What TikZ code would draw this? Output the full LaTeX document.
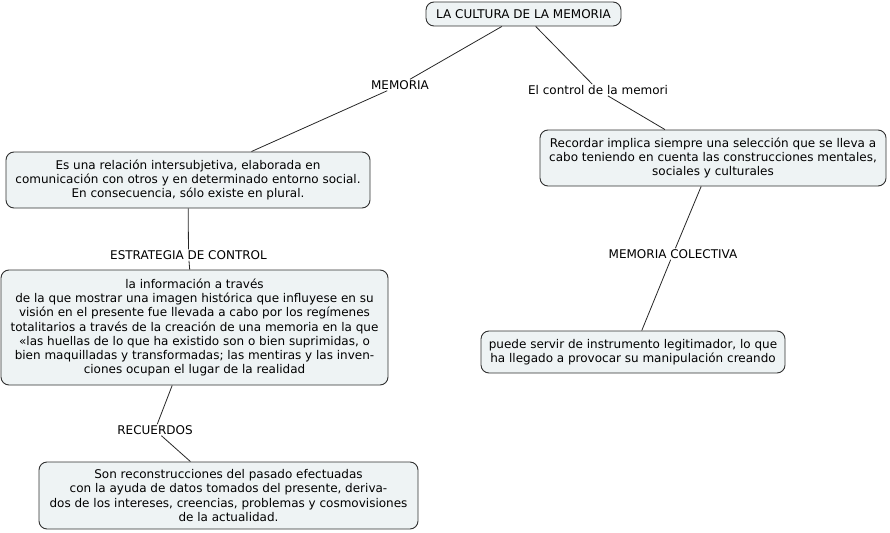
\documentclass[tikz,border=0pt]{standalone}
\usepackage{fontspec}
\setmainfont{DejaVu Sans}
\definecolor{boxfill}{HTML}{EEF3F4}
\definecolor{boxline}{HTML}{303030}
\begin{document}
\begin{tikzpicture}[x=1pt,y=-1pt,
  concept/.style={draw=boxline, fill=boxfill, rounded corners=8pt, line width=0.9pt, align=center, inner sep=0pt,
    font=\fontsize{12}{14.3}\selectfont},
  lbl/.style={inner sep=1pt, font=\fontsize{12}{14}\selectfont},
  conn/.style={draw=black!85, line width=0.8pt}]
\useasboundingbox (0,0) rectangle (890,532);
\node[concept, minimum width=195pt, minimum height=24pt] (root) at (523.5,14) {LA CULTURA DE LA MEMORIA};
\node[concept, minimum width=364pt, minimum height=56pt] (a) at (188,180) {Es una relación intersubjetiva, elaborada en\\comunicación con otros y en determinado entorno social.\\En consecuencia, sólo existe en plural.};
\node[concept, minimum width=346pt, minimum height=56pt] (b) at (713,158) {Recordar implica siempre una selección que se lleva a\\cabo teniendo en cuenta las construcciones mentales,\\sociales y culturales};
\node[concept, minimum width=387pt, minimum height=115pt] (c) at (194.5,327.5) {la información a través\\de la que mostrar una imagen histórica que influyese en su\\visión en el presente fue llevada a cabo por los regímenes\\totalitarios a través de la creación de una memoria en la que\\«las huellas de lo que ha existido son o bien suprimidas, o\\bien maquilladas y transformadas; las mentiras y las inven-\\ciones ocupan el lugar de la realidad};
\node[concept, minimum width=379pt, minimum height=67pt] (d) at (228.5,495.5) {Son reconstrucciones del pasado efectuadas\\con la ayuda de datos tomados del presente, deriva-\\dos de los intereses, creencias, problemas y cosmovisiones\\de la actualidad.};
\node[concept, minimum width=304pt, minimum height=42pt] (e) at (633,352) {puede servir de instrumento legitimador, lo que\\ha llegado a provocar su manipulación creando};
\node[lbl] (l1) at (400,85) {MEMORIA};
\node[lbl] (l2) at (598,90) {El control de la memori};
\node[lbl] (l3) at (188.5,255) {ESTRATEGIA DE CONTROL};
\node[lbl] (l4) at (673,254) {MEMORIA COLECTIVA};
\node[lbl] (l5) at (155,430) {RECUERDOS};
\draw[conn] (root) -- (l1) -- (a);
\draw[conn] (root) -- (l2) -- (b);
\draw[conn] (a) -- (l3) -- (c);
\draw[conn] (b) -- (l4) -- (e);
\draw[conn] (c) -- (l5) -- (d);
\end{tikzpicture}
\end{document}
